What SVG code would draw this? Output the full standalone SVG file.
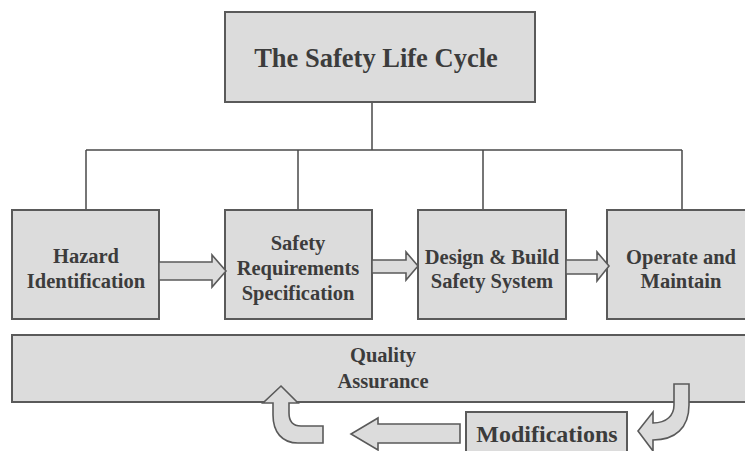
<svg xmlns="http://www.w3.org/2000/svg" width="745" height="451" viewBox="0 0 745 451">
<style>
.box{fill:#dcdcdc;stroke:#5a5a5a;stroke-width:2}
.arr{fill:#dcdcdc;stroke:#5a5a5a;stroke-width:1.6;stroke-linejoin:miter}
.ln{fill:none;stroke:#4a4a4a;stroke-width:1.5}
text{font-family:"Liberation Serif","Times New Roman",serif;font-weight:bold;fill:#3c3c3c;text-anchor:middle}
.t{font-size:20.5px}
</style>
<rect width="745" height="451" fill="#ffffff"/>
<g id="connectors">
<path class="ln" d="M372,102 V150 M86,150 H682 M86,150 V210 M298,150 V210 M483,150 V210 M682,150 V210"/>
</g>
<g id="title">
<rect class="box" x="225" y="12" width="310" height="90"/>
<text x="376" y="67" style="font-size:26.5px">The Safety Life Cycle</text>
</g>
<g id="qa">
<rect class="box" x="12" y="335" width="750" height="67"/>
<text class="t" x="383" y="362">Quality</text>
<text class="t" x="383" y="388">Assurance</text>
</g>
<g id="hazard">
<rect class="box" x="12" y="210" width="147" height="109"/>
<text class="t" x="86" y="263">Hazard</text>
<text class="t" x="86" y="288">Identification</text>
</g>
<g id="srs">
<rect class="box" x="225" y="210" width="147" height="109"/>
<text class="t" x="298" y="250">Safety</text>
<text class="t" x="298" y="275">Requirements</text>
<text class="t" x="298" y="300">Specification</text>
</g>
<g id="design">
<rect class="box" x="418" y="210" width="148" height="109"/>
<text class="t" x="492" y="264">Design &amp; Build</text>
<text class="t" x="492" y="288">Safety System</text>
</g>
<g id="operate">
<rect class="box" x="607" y="210" width="160" height="109"/>
<text class="t" x="681" y="264">Operate and</text>
<text class="t" x="681" y="288">Maintain</text>
</g>
<g id="modifications">
<rect class="box" x="466" y="412" width="161" height="50"/>
<text x="547" y="442" style="font-size:24px">Modifications</text>
</g>
<g id="arrows">
<path class="arr" d="M159,262 H212 V255 L226,271 L212,287 V280 H159 Z"/>
<path class="arr" d="M372,260 H406 V252 L418,266 L406,280 V273 H372 Z"/>
<path class="arr" d="M566,260 H597 V252 L609,266 L597,281 V274 H566 Z"/>
<path class="arr" d="M674,384 H689 V405 C689,428 675,440 653,440 V451 L638,431 L653,412 V423 C667,423 674,415 674,405 Z"/>
<path class="arr" d="M460,424 H378 V418 L351,434 L378,450 V443 H460 Z"/>
<path class="arr" d="M281,386 L298,403 H289 V413 C289,421 293,426 301,426 H323 V443 H298 C282,443 273,432 273,415 V403 H263 Z"/>
</g>
</svg>
